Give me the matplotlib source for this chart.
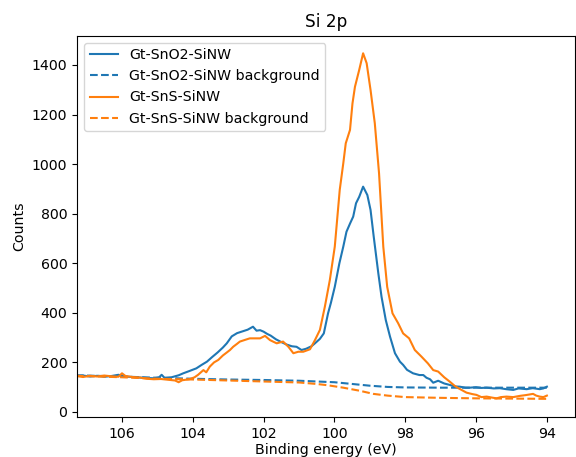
import matplotlib
matplotlib.use("Agg")
import matplotlib.pyplot as plt

# Gt-SnO2-SiNW spectrum
x_sno2 = [107.3, 107.1, 106.9, 106.7, 106.5, 106.3, 106.1, 105.9, 105.7, 105.5, 105.3, 105.1,
          104.95, 104.88, 104.8, 104.6, 104.4, 104.27, 104.1, 103.9, 103.75, 103.6, 103.45,
          103.3, 103.15, 103.04, 102.9, 102.75, 102.6, 102.45, 102.3, 102.2, 102.1, 102.0,
          101.9, 101.8, 101.65, 101.5, 101.35, 101.2, 101.07, 100.93, 100.8, 100.65, 100.55,
          100.41, 100.3, 100.18, 100.1, 99.99, 99.86, 99.75, 99.66, 99.56, 99.47, 99.39,
          99.30, 99.19, 99.07, 98.98, 98.89, 98.76, 98.67, 98.55, 98.43, 98.29, 98.15, 98.06,
          97.95, 97.78, 97.6, 97.49, 97.4, 97.3, 97.21, 97.07, 96.9, 96.74, 96.6, 96.46, 96.3,
          96.18, 96.0, 95.85, 95.7, 95.5, 95.33, 95.15, 94.95, 94.8, 94.57, 94.4, 94.2, 94.1, 94.0]
y_sno2 = [145, 147, 143, 146, 142, 145, 150, 143, 141, 139, 137, 136,
          140, 150, 138, 140, 148, 156, 165, 176, 190, 203, 222,
          240, 260, 277, 305, 318, 325, 332, 344, 328, 330, 324,
          315, 308, 293, 282, 272, 265, 263, 250, 255, 265, 277,
          295, 317, 398, 440, 505, 600, 667, 727, 760, 788, 842,
          868, 909, 875, 815, 707, 559, 465, 371, 304, 237, 203, 190,
          170, 156, 149, 149, 138, 132, 118, 126, 115, 109, 103, 102, 98,
          98, 100, 97, 98, 95, 96, 92, 89, 95, 92, 96, 92, 95, 102]

# Gt-SnO2-SiNW background
x_sno2_bg = [107.3, 106.0, 105.0, 104.0, 103.0, 102.0, 101.0, 100.5, 100.0, 99.5, 99.0,
             98.5, 98.0, 97.0, 96.0, 95.0, 94.0]
y_sno2_bg = [148, 143, 138, 134, 131, 129, 126, 123, 120, 113, 106,
             101, 99, 98, 98, 98, 98]

# Gt-SnS-SiNW spectrum
x_sns = [107.3, 107.1, 106.9, 106.7, 106.5, 106.3, 106.1, 106.0, 105.9, 105.7, 105.5, 105.3,
         105.1, 104.9, 104.7, 104.5, 104.4, 104.3, 104.1, 103.95, 103.85, 103.7, 103.62,
         103.52, 103.4, 103.28, 103.15, 103.04, 102.95, 102.86, 102.75, 102.67, 102.5,
         102.39, 102.25, 102.1, 101.96, 101.82, 101.72, 101.63, 101.45, 101.3, 101.16,
         101.02, 100.88, 100.69, 100.55, 100.41, 100.27, 100.13, 99.99, 99.85, 99.75, 99.68,
         99.56, 99.49, 99.42, 99.30, 99.19, 99.09, 98.98, 98.86, 98.74, 98.62, 98.51, 98.36,
         98.20, 98.06, 97.89, 97.73, 97.54, 97.36, 97.21, 97.07, 96.9, 96.74, 96.6, 96.5,
         96.27, 96.1, 95.99, 95.85, 95.70, 95.55, 95.42, 95.3, 95.14, 94.95, 94.76, 94.6,
         94.39, 94.3, 94.2, 94.1, 94.0]
y_sns = [145, 141, 146, 143, 147, 144, 142, 156, 145, 141, 139, 134,
         132, 133, 130, 127, 120, 128, 132, 140, 150, 169, 160,
         183, 200, 210, 228, 240, 250, 263, 275, 284, 292,
         297, 297, 297, 307, 290, 283, 277, 284, 263, 237,
         243, 243, 253, 290, 331, 425, 532, 667, 896, 1003, 1084,
         1138, 1245, 1312, 1380, 1447, 1407, 1299, 1165, 963, 667, 505, 398,
         358, 317, 297, 250, 223, 196, 169, 163, 140, 122, 105, 96,
         78, 72, 69, 60, 62, 58, 55, 60, 62, 60, 65, 68,
         73, 66, 62, 60, 66]

# Gt-SnS-SiNW background
x_sns_bg = [107.3, 106.0, 105.0, 104.0, 103.0, 102.0, 101.0, 100.5, 100.2, 99.75, 99.3,
            98.9, 98.5, 98.0, 97.0, 96.0, 95.0, 94.0]
y_sns_bg = [146, 140, 134, 131, 127, 123, 119, 113, 108, 98, 86,
            73, 66, 60, 57, 55, 54, 53]

x_ticks = [106, 104, 102, 100, 98, 96, 94]
y_ticks = [0, 200, 400, 600, 800, 1000, 1200, 1400]

plt.rcParams["font.size"] = 10.15

fig = plt.figure(figsize=(5.76, 4.57), dpi=100)
ax = fig.add_axes([0.1337, 0.088, 0.998 - 0.1337, 0.9219 - 0.088])

c_blue = "#1f77b4"
c_orange = "#ff7f0e"
ax.plot(x_sno2, y_sno2, color=c_blue, lw=1.5, label="Gt-SnO2-SiNW")
ax.plot(x_sno2_bg, y_sno2_bg, color=c_blue, lw=1.5, ls="--", label="Gt-SnO2-SiNW background")
ax.plot(x_sns, y_sns, color=c_orange, lw=1.5, label="Gt-SnS-SiNW")
ax.plot(x_sns_bg, y_sns_bg, color=c_orange, lw=1.5, ls="--", label="Gt-SnS-SiNW background")

ax.set_xlim(107.27, 93.21)
ax.set_ylim(-19.4, 1518)
ax.set_xticks(x_ticks)
ax.set_yticks(y_ticks)
ax.set_title("Si 2p")
ax.set_xlabel("Binding energy (eV)", labelpad=1.5)
ax.set_ylabel("Counts")
ax.legend(loc="upper left")

fig.savefig("out.png", dpi=100)
